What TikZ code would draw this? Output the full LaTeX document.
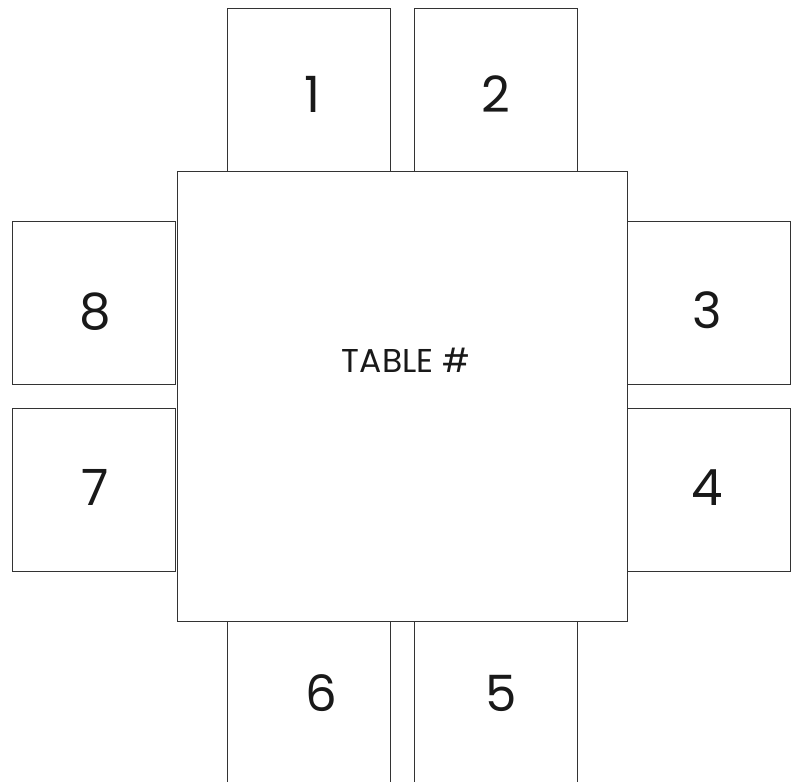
\documentclass[tikz,border=0pt]{standalone}
\usepackage{fontspec}
\setmainfont{Poppins}
\usetikzlibrary{positioning}

\begin{document}
\begin{tikzpicture}[x=1pt, y=-1pt,
    chair/.style={draw=black!80, line width=0.9pt, fill=white,
      minimum width=163pt, minimum height=163pt, inner sep=0pt},
    tablebox/.style={draw=black!80, line width=0.9pt, fill=white,
      minimum size=450pt, inner sep=0pt},
    seatno/.style={font=\fontsize{50}{50}\selectfont, text=black!90, inner sep=0pt},
    tabletext/.style={font=\fontsize{33}{33}\selectfont, text=black!90, inner sep=0pt}
  ]
  \useasboundingbox (0,0) rectangle (791,781);
  \clip (0,0) rectangle (791,781);

  % chairs round the table
  \foreach \n/\x/\y in {1/308.5/89.5, 2/495.5/89.5, 3/708.5/302.5, 4/708.5/489.5,
                        5/495.5/702.5, 6/308.5/702.5, 7/94/489.5, 8/94/302.5}
    \node[chair] (chair\n) at (\x,\y) {};

  % the table
  \node[tablebox] (table) at (402,396) {};
  \node[tabletext] (tablename) at (406,360) {TABLE \#};

  % seat numbers
  \foreach \n/\x/\y in {1/312/94, 2/496/94, 3/707/310, 4/707/488,
                        5/501/693, 6/321/693, 7/95/487, 8/95/312}
    \node[seatno] (seat\n) at (\x,\y) {\n};
\end{tikzpicture}
\end{document}
